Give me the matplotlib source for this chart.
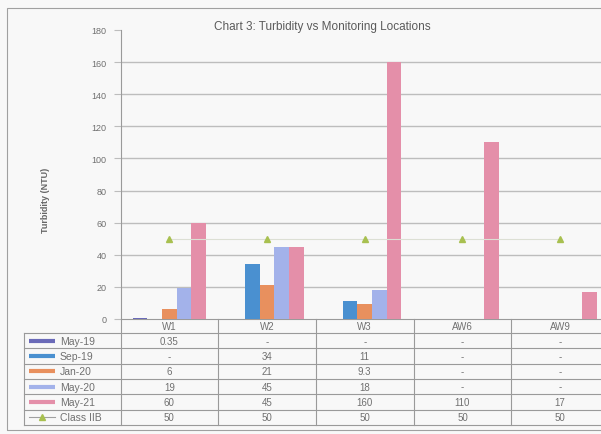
import numpy as np
import matplotlib
matplotlib.use("Agg")
import matplotlib.pyplot as plt
from matplotlib.lines import Line2D
from matplotlib.patches import Rectangle
import matplotlib.transforms as mtransforms

plt.rcParams['font.family'] = ['Liberation Sans', 'DejaVu Sans']

# data
locations = ["W1", "W2", "W3", "AW6", "AW9"]
series_names = ["May-19", "Sep-19", "Jan-20", "May-20", "May-21"]
may19 = [0.35, np.nan, np.nan, np.nan, np.nan]
sep19 = [np.nan, 34, 11, np.nan, np.nan]
jan20 = [6, 21, 9.3, np.nan, np.nan]
may20 = [19, 45, 18, np.nan, np.nan]
may21 = [60, 45, 160, 110, 17]
class_iib = [50, 50, 50, 50, 50]
class_name = "Class IIB"

series_values = [may19, sep19, jan20, may20, may21]
series_colors = ["#6a6ab8", "#4a90d0", "#e8905e", "#a3b2ea", "#e48fa9"]
line_color = "#a8c050"
text_col = "#707070"
grid_col = "#bdbdbd"
bg = "#f8f8f8"


def fmt(v):
    if v is None or (isinstance(v, float) and np.isnan(v)):
        return "-"
    return f"{v:g}"


W, H = 601, 435
fig = plt.figure(figsize=(W / 100, H / 100), dpi=100, facecolor=bg)

# axes geometry in pixels (plot runs off the right edge like the scan)
left_px, top_px, bottom_px = 120.5, 31, 320
col_px = 97.7
ax = fig.add_axes([left_px / W, (H - bottom_px) / H,
                   len(locations) * col_px / W, (bottom_px - top_px) / H])
ax.set_facecolor(bg)

x = np.arange(len(locations))
bw = 0.15
for i, (vals, col) in enumerate(zip(series_values, series_colors)):
    ax.bar(x + (i - 2) * bw, np.nan_to_num(vals), width=bw, color=col,
           zorder=3, linewidth=0)
ax.plot(x, class_iib, color="#dcdfd4", lw=0.8, marker="^", ms=5,
        mfc=line_color, mec=line_color, zorder=4)

ax.set_xlim(-0.5, len(locations) - 0.5)
ax.set_ylim(0, 180)
ax.set_yticks(np.arange(0, 181, 20))
for y in range(20, 161, 20):
    ax.axhline(y, color=grid_col, lw=1, zorder=1)
ax.tick_params(axis="y", labelsize=6.5, colors=grid_col, labelcolor=text_col,
               length=5, width=0.8, pad=5)
ax.set_xticks([])
for s in ["top", "right"]:
    ax.spines[s].set_visible(False)
ax.spines["left"].set_color("#9a9a9a")
ax.spines["bottom"].set_color("#9a9a9a")

fig.text(322 / W, 1 - 27 / H, "Chart 3: Turbidity vs Monitoring Locations",
         ha="center", va="center", fontsize=8.5, color="#5a5a5a")
fig.text(45 / W, 1 - 200 / H, "Turbidity (NTU)", rotation=90, ha="center",
         va="center", fontsize=6.5, fontweight="bold", color="#666666")

# data table under the axis
tr = mtransforms.blended_transform_factory(ax.transData, fig.transFigure)
ff = fig.transFigure
row_h = 15.3
rows_top = 334
n_rows = len(series_names) + 1
row_lines = [rows_top + k * row_h for k in range(n_rows + 1)]
line_kw = dict(color="#9a9a9a", lw=0.8, clip_on=False)

def fy(ypx):
    return 1 - ypx / H

# horizontal lines
for ypx in row_lines:
    fig.add_artist(Line2D([24 / W, 1.05], [fy(ypx), fy(ypx)], transform=ff, **line_kw))
# vertical lines
for b in np.arange(-0.5, len(locations), 1.0):
    fig.add_artist(Line2D([b, b], [fy(bottom_px), fy(row_lines[-1])], transform=tr, **line_kw))
fig.add_artist(Line2D([24 / W, 24 / W], [fy(rows_top), fy(row_lines[-1])], transform=ff, **line_kw))

# header
for xi, name in zip(x, locations):
    fig.text(xi, fy((bottom_px + rows_top) / 2), name, transform=tr,
             ha="center", va="center", fontsize=7, color=text_col)

table_rows = [[fmt(v) for v in vals] for vals in series_values]
table_rows.append([fmt(v) for v in class_iib])
row_names = series_names + [class_name]
for r, (name, cells) in enumerate(zip(row_names, table_rows)):
    yc = fy(row_lines[r] + row_h / 2)
    for xi, txt in zip(x, cells):
        fig.text(xi, yc, txt, transform=tr, ha="center", va="center",
                 fontsize=7, color=text_col)
    fig.text(60 / W, yc, name, transform=ff, ha="left", va="center",
             fontsize=7.5, color=text_col)
    if r < len(series_colors):
        fig.add_artist(Line2D([29 / W, 55 / W], [yc, yc], transform=ff,
                              color=series_colors[r], lw=3, solid_capstyle="butt"))
    else:
        fig.add_artist(Line2D([29 / W, 55 / W], [yc, yc], transform=ff,
                              color="#a0a0a0", lw=0.8))
        fig.add_artist(Line2D([42 / W], [yc], transform=ff, marker="^", ms=4,
                              mfc=line_color, mec=line_color, lw=0))

# outer chart border
fig.add_artist(Rectangle((7 / W, fy(431)), 1.2, (431 - 9) / H, transform=ff,
                         fill=False, ec="#a0a0a0", lw=0.8, clip_on=False))

fig.savefig("out.png", dpi=100, facecolor=bg)
